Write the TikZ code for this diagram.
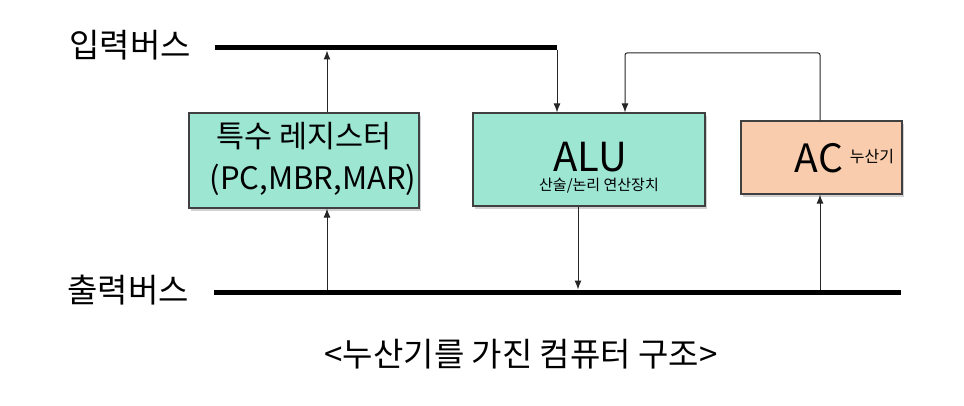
\documentclass[tikz,border=0pt]{standalone}
\usepackage{fontspec}
\setmainfont{Noto Sans CJK KR}
\usetikzlibrary{arrows.meta,shadows}
\begin{document}
\begin{tikzpicture}[x=1pt,y=-1pt,
  bus/.style={line width=5pt},
  wire/.style={line width=1pt,draw=black!85},
  arr/.style={wire,-{Latex[length=9pt,width=7pt]}},
  unit/.style={draw=black!75,line width=1.2pt,inner sep=0pt,
    drop shadow={shadow xshift=2pt,shadow yshift=-3pt,opacity=0.35}},
  lbl/.style={font=\fontsize{33}{36}\selectfont,inner sep=0pt}]
\useasboundingbox[fill=white] (0,0) rectangle (964,406);
% boxes
\node[unit,fill={rgb,255:red,157;green,230;blue,210},minimum width=230pt,minimum height=95pt] (sr) at (304,160.5) {};
\node[unit,fill={rgb,255:red,157;green,230;blue,210},minimum width=232pt,minimum height=93pt] (alu) at (589,159.5) {};
\node[unit,fill={rgb,255:red,248;green,204;blue,172},minimum width=161pt,minimum height=73pt] (ac) at (821.5,157.5) {};
% texts
\node[font=\fontsize{30.5}{32}\selectfont,inner sep=0pt] (srt1) at (304,136) {특수 레지스터};
\node[font=\fontsize{31}{33}\selectfont,inner sep=0pt] (srt2) at (313,180) {(PC,MBR,MAR)};
\node[font=\fontsize{40}{44}\selectfont,inner sep=0pt] (alut) at (590,157) {ALU};
\node[font=\fontsize{15}{17}\selectfont,inner sep=0pt] (alus) at (599,186) {산술/논리 연산장치};
\node[font=\fontsize{39}{42}\selectfont,inner sep=0pt] (act) at (819,158) {AC};
\node[font=\fontsize{16}{18}\selectfont,inner sep=0pt] (acs) at (872,157) {누산기};
% buses
\coordinate (inL) at (215,48);
\coordinate (inR) at (557,48);
\coordinate (outL) at (214,292);
\coordinate (outR) at (901,292);
\draw[bus] (inL) -- (inR);
\draw[bus] (outL) -- (outR);
\node[lbl,anchor=east] (inlbl) at (191,45) {입력버스};
\node[lbl,anchor=east] (outlbl) at (189,290) {출력버스};
% connections
\coordinate (srTopBus) at (327,50.5);
\coordinate (srBotBus) at (327,289.5);
\draw[arr] (sr.north -| srTopBus) -- (srTopBus);
\draw[arr] (srBotBus) -- (sr.south -| srBotBus);
\draw[arr] ([yshift=-2pt]inR) -- (alu.north -| inR);
\coordinate (fbTopL) at (625,53);
\coordinate (fbTopR) at (820,53);
\draw[arr,rounded corners=2pt] (ac.north -| fbTopR) -- (fbTopR) -- (fbTopL) -- (alu.north -| fbTopL);
\coordinate (aluBus) at (578,289.5);
\draw[arr] (alu.south -| aluBus) -- (aluBus);
\coordinate (acBus) at (820,289.5);
\draw[arr] (acBus) -- (ac.south -| acBus);
% caption
\node[font=\fontsize{33}{36}\selectfont,inner sep=0pt] (cap) at (521,354) {<누산기를 가진 컴퓨터 구조>};
\end{tikzpicture}
\end{document}
